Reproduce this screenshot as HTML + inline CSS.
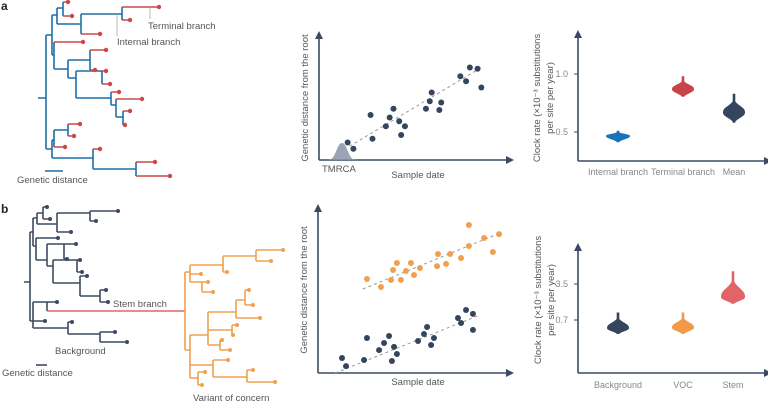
<!DOCTYPE html>
<html><head><meta charset="utf-8"><style>
html,body{margin:0;padding:0;background:#fff;}
svg{display:block;font-family:"Liberation Sans",sans-serif;}
.lbl{fill:#555;font-size:9.5px;}
.tk{fill:#888;font-size:9px;}
</style></head><body>
<svg id="fig" width="768" height="401" viewBox="0 0 768 401">
<defs>
<marker id="arr" viewBox="0 0 6 6" refX="3" refY="3" markerWidth="5" markerHeight="5" orient="auto"><path d="M0,0L6,3L0,6z" fill="#3b4a63"/></marker>
</defs>
<text x="1" y="10" font-size="12" font-weight="bold" fill="#222">a</text>
<text x="1" y="213" font-size="12" font-weight="bold" fill="#222">b</text>

<g fill="none" stroke-width="1.6">
<path stroke="#1f6fa8" d="M38 98H46M46 35V149M46 35H52M52 15V55M52 15H57M57 8V24M57 8H63M63 2V16M57 24H81M81 14V34M81 14H122M122 7V20M52 55H54M54 42V69M54 69H68M68 60V78M68 60H90M90 50V70M68 78H76M76 71V98M76 71H102M102 71V84M76 98H111M111 92V105M111 105H116M116 99V117M116 117H123M123 111V125M46 149H52M52 140V158M52 140H54M54 130V147M54 130H68M68 124V136M52 158H93M93 149V169M93 169H136M136 162V176"/>
<path stroke="#c94848" d="M63 2H68M63 16H72M122 7H159M122 20H130M81 34H100M54 42H83M90 50H106M90 70H95M102 71H106M102 84H110M111 92H119M116 99H142M123 111H130M123 125H125M68 124H80M68 136H74M54 147H65M93 149H100M136 162H155M136 176H170"/>
<g fill="#c94848" stroke="none">
<circle cx="68" cy="2" r="2.2"/><circle cx="72" cy="16" r="2.2"/><circle cx="159" cy="7" r="2.2"/><circle cx="130" cy="20" r="2.2"/><circle cx="100" cy="34" r="2.2"/><circle cx="83" cy="42" r="2.2"/><circle cx="106" cy="50" r="2.2"/><circle cx="95" cy="70" r="2.2"/><circle cx="106" cy="71" r="2.2"/><circle cx="110" cy="84" r="2.2"/><circle cx="119" cy="92" r="2.2"/><circle cx="142" cy="99" r="2.2"/><circle cx="130" cy="111" r="2.2"/><circle cx="125" cy="125" r="2.2"/><circle cx="80" cy="124" r="2.2"/><circle cx="74" cy="136" r="2.2"/><circle cx="65" cy="147" r="2.2"/><circle cx="100" cy="149" r="2.2"/><circle cx="155" cy="162" r="2.2"/><circle cx="170" cy="176" r="2.2"/>
</g>
<path stroke="#aaa" stroke-width="0.8" d="M150 8V19M117 14V36"/>
<path stroke="#1f6fa8" d="M45 171H63"/>
</g>
<text class="lbl" x="148" y="29">Terminal branch</text>
<text class="lbl" x="117" y="45">Internal branch</text>
<text class="lbl" x="17" y="183">Genetic distance</text>

<g fill="none" stroke-width="1.6">
<path stroke="#3d4a63" d="M24 282H30M30 232V321M30 232H33M33 218V246M33 218H37M37 213V224M37 213H43M43 207V219M37 224H57M57 213V232M57 213H90M90 211V221M33 246H36M36 238V260M36 260H47M47 244V266M47 244H64M64 244V259M47 266H53M53 260V283M53 260H77M77 260V272M53 283H80M80 276V296M80 296H100M100 290V302M30 321H33M33 302V328M33 302H47M47 302V311M33 328H68M68 322V334M68 334H100M100 332V342"/>
<path stroke="#3d4a63" d="M43 207H47M43 219H50M90 211H118M90 221H96M57 232H71M36 238H58M64 244H76M64 259H67M77 260H80M77 272H82M80 276H87M100 290H106M100 302H108M47 302H57M33 321H45M68 322H72M100 332H115M100 342H127"/>
<g fill="#3d4a63">
<circle cx="47" cy="207" r="2"/><circle cx="50" cy="219" r="2"/><circle cx="118" cy="211" r="2"/><circle cx="96" cy="221" r="2"/><circle cx="71" cy="232" r="2"/><circle cx="58" cy="238" r="2"/><circle cx="76" cy="244" r="2"/><circle cx="67" cy="259" r="2"/><circle cx="80" cy="260" r="2"/><circle cx="82" cy="272" r="2"/><circle cx="87" cy="276" r="2"/><circle cx="106" cy="290" r="2"/><circle cx="108" cy="302" r="2"/><circle cx="57" cy="302" r="2"/><circle cx="45" cy="321" r="2"/><circle cx="72" cy="322" r="2"/><circle cx="115" cy="332" r="2"/><circle cx="127" cy="342" r="2"/>
</g>
<path stroke="#e06468" d="M47 311H185"/>
<path stroke="#f0a050" d="M185 272V350M185 272H190M190 265V282M190 265H223M223 256V272M223 256H256M256 250V261M190 282H202M202 282V292M185 350H190M190 335V378M190 335H208M208 312V345M208 312H236M236 300V318M236 300H245M245 290V305M208 330H232M232 325V335M208 345H220M220 340V350M190 365H213M213 360V377M213 377H247M247 370V382M190 378H198M198 372V385"/>
<path stroke="#f0a050" d="M256 250H283M256 261H271M223 272H227M190 274H201M202 282H208M202 292H213M245 290H249M245 305H253M236 318H260M232 325H237M232 335H233M220 340H222M220 350H230M213 360H228M247 370H253M247 382H275M198 372H205M198 385H202"/>
<g fill="#f0a050">
<circle cx="283" cy="250" r="2"/><circle cx="271" cy="261" r="2"/><circle cx="227" cy="272" r="2"/><circle cx="201" cy="274" r="2"/><circle cx="208" cy="282" r="2"/><circle cx="213" cy="292" r="2"/><circle cx="249" cy="290" r="2"/><circle cx="253" cy="305" r="2"/><circle cx="260" cy="318" r="2"/><circle cx="237" cy="325" r="2"/><circle cx="233" cy="335" r="2"/><circle cx="222" cy="340" r="2"/><circle cx="230" cy="350" r="2"/><circle cx="228" cy="360" r="2"/><circle cx="253" cy="370" r="2"/><circle cx="275" cy="382" r="2"/><circle cx="205" cy="372" r="2"/><circle cx="202" cy="385" r="2"/>
</g>
<path stroke="#3d4a63" d="M36 365H47"/>
</g>
<text class="lbl" x="113" y="307">Stem branch</text>
<text class="lbl" x="55" y="354">Background</text>
<text class="lbl" x="2" y="376">Genetic distance</text>
<text class="lbl" x="193" y="401">Variant of concern</text>

<g id="charts"></g>
</svg>
<script>
const aDates = [1.5,1.8,2.7,2.8,3.5,3.7,3.9,4.2,4.3,4.5,5.6,5.8,5.9,6.3,6.4,7.4,7.7,7.9,8.3,8.5];
const aDist  = [1.4,0.9,3.6,1.7,2.7,3.4,4.1,3.1,2.0,2.7,4.1,4.7,5.4,4.0,4.6,6.7,6.3,7.4,7.3,5.8];
const aTrendX = [1.6,8.5];
const aTrendY = [1.1,7.4];
const bBgDates = [1.25,1.46,2.40,2.55,3.18,3.44,3.70,3.85,3.96,4.11,5.21,5.52,5.68,5.89,6.04,7.29,7.45,7.71,8.07,8.07];
const bBgDist  = [0.91,0.42,0.79,2.12,1.39,1.82,2.24,0.73,1.58,1.15,1.94,2.36,2.79,1.70,2.12,3.33,3.03,3.82,3.58,2.61];
const bVocDates = [2.55,3.28,3.80,3.91,4.11,4.32,4.58,4.84,5.0,5.31,6.25,6.20,6.67,6.88,7.45,7.86,7.86,8.65,9.11,9.43];
const bVocDist  = [5.70,5.21,5.64,6.24,6.67,5.64,6.18,6.67,5.94,6.36,7.21,6.48,6.61,7.21,6.97,7.70,8.97,8.18,7.33,8.42];
const bBgTrendX = [0.9,8.44];
const bBgTrendY = [0.0,3.52];
const bVocTrendX = [2.34,9.48];
const bVocTrendY = [5.09,8.48];
const aCats = ["Internal branch","Terminal branch","Mean"];
const aMed  = [0.466,0.87,0.67];
const aLo   = [0.41,0.80,0.58];
const aHi   = [0.51,0.98,0.83];
const aTicks = [0.5,1.0];
const aTickLabels = ["0.5","1.0"];
const bCats = ["Background","VOC","Stem"];
const bMed  = [0.49,0.50,1.96];
const bLo   = [0.37,0.37,1.42];
const bHi   = [0.98,0.98,6.2];
const bTicks = [0.7,3.5];
const bTickLabels = ["0.7","3.5"];

const NS="http://www.w3.org/2000/svg";
const root=document.getElementById('charts');
function mk(tag,attrs,parent){const e=document.createElementNS(NS,tag);for(const k in attrs)e.setAttribute(k,attrs[k]);(parent||root).appendChild(e);return e;}
function axes(x0,yTop,yBase,xEnd,name){
  const g=mk('g',{});
  
  
  mk('line',{x1:x0,y1:yBase,x2:x0,y2:yTop,stroke:'#3b4a63','stroke-width':1.6,'marker-end':'url(#arr)'},g);
  mk('line',{x1:x0,y1:yBase,x2:xEnd,y2:yBase,stroke:'#3b4a63','stroke-width':1.6,'marker-end':'url(#arr)'},g);
  return g;
}
function text(x,y,s,cls,anchor,rot,name){
  const t=mk('text',{x:x,y:y,class:cls,'text-anchor':anchor||'start'});
  if(rot)t.setAttribute('transform','rotate(-90 '+x+' '+y+')');
  t.textContent=s;
  
  
  return t;
}
const sxA=d=>319+d*19.1, syA=g=>160-g*12.5;
axes(319,35,160,510,'scatter-a-axes');
(function(){let p='M322 160';for(let x=322;x<=362;x+=0.5){const h=17*Math.exp(-Math.pow(Math.abs(x-342)/7,2.4));p+=' L'+x+' '+(160-h).toFixed(1);}p+=' Z';
const e=mk('path',{d:p,fill:'#8a93a8',opacity:0.85});

})();
{const l=mk('line',{x1:sxA(aTrendX[0]),y1:syA(aTrendY[0]),x2:sxA(aTrendX[1]),y2:syA(aTrendY[1]),stroke:'#999','stroke-dasharray':'3,3','stroke-width':1});

}
aDates.forEach((d,i)=>{const c=mk('circle',{cx:sxA(d),cy:syA(aDist[i]),r:3,fill:'#34465e'});

});
text(322,172,'TMRCA','lbl','start',false,'tmrca-label');
text(418,178,'Sample date','lbl','middle',false,'x-axis-title-a');
text(308,98,'Genetic distance from the root','lbl','middle',true,'y-axis-title-a');

const sxB=d=>318+d*19.2, syB=g=>373-g*16.5;
axes(318,208,373,510,'scatter-b-axes');
function trend(xs,ys,name){const l=mk('line',{x1:sxB(xs[0]),y1:syB(ys[0]),x2:sxB(xs[1]),y2:syB(ys[1]),stroke:'#999','stroke-dasharray':'3,3','stroke-width':1});

}
trend(bVocTrendX,bVocTrendY,'trend-line-voc');
trend(bBgTrendX,bBgTrendY,'trend-line-background');
bVocDates.forEach((d,i)=>{const c=mk('circle',{cx:sxB(d),cy:syB(bVocDist[i]),r:3,fill:'#f0a050'});

});
bBgDates.forEach((d,i)=>{const c=mk('circle',{cx:sxB(d),cy:syB(bBgDist[i]),r:3,fill:'#34465e'});

});
text(418,385,'Sample date','lbl','middle',false,'x-axis-title-b');
text(307,290,'Genetic distance from the root','lbl','middle',true,'y-axis-title-b');

// violin: rounded profile (generalised gaussian), longer spread above than below
function violin(cx,yMed,yLo,yHi,w,color,name){
  const su=Math.max((yMed-yHi)/2.3,2.5), sd=Math.max((yLo-yMed)/1.5,2.5);
  const right=[];
  for(let y=yHi;y<=yLo+0.01;y+=0.5){
    const s=y<yMed?su:sd;
    const ww=Math.max(w*Math.exp(-Math.pow(Math.abs(y-yMed)/s,2.5)),1.3);
    right.push([cx+ww,y]);
  }
  const left=right.map(q=>[2*cx-q[0],q[1]]).reverse();
  const all=right.concat(left);
  let p='M'+all.map(q=>q[0].toFixed(1)+' '+q[1].toFixed(1)).join(' L')+'Z';
  const e=mk('path',{d:p,fill:color});
  
  
}
const catXA=[618,683,734], colA=['#1874b8','#c8444a','#34465e'], wA=[12,11,11];
const vyA=v=>132-(v-0.5)*116;
axes(578,34,161,768,'violin-a-axes');
aTicks.forEach((t,i)=>{mk('line',{x1:574,x2:578,y1:vyA(t),y2:vyA(t),stroke:'#3b4a63'});text(568,vyA(t)+3,aTickLabels[i],'tk','end',false,'y-tick-a');});
aCats.forEach((c,i)=>{violin(catXA[i],vyA(aMed[i]),vyA(aLo[i]),vyA(aHi[i]),wA[i],colA[i],'violin-'+c.toLowerCase().replace(/ /g,'-'));text(catXA[i],175,c,'tk','middle',false,'x-tick-a');});
text(540,98,'Clock rate (×10⁻³ substitutions','lbl','middle',true,'y-axis-title-a2-line1');
text(553,98,'per site per year)','lbl','middle',true,'y-axis-title-a2-line2');
const catXB=[618,683,733], colB=['#34465e','#f39a4a','#e06468'], wB=[11,11,12];
const vyB=v=>320-(Math.log10(v)-Math.log10(0.7))*51.5;
axes(578,247,373,768,'violin-b-axes');
bTicks.forEach((t,i)=>{mk('line',{x1:574,x2:578,y1:vyB(t),y2:vyB(t),stroke:'#3b4a63'});text(568,vyB(t)+3,bTickLabels[i],'tk','end',false,'y-tick-b');});
bCats.forEach((c,i)=>{violin(catXB[i],vyB(bMed[i]),vyB(bLo[i]),vyB(bHi[i]),wB[i],colB[i],'violin-'+c.toLowerCase());text(catXB[i],388,c,'tk','middle',false,'x-tick-b');});
text(541,300,'Clock rate (×10⁻³ substitutions','lbl','middle',true,'y-axis-title-b2-line1');
text(554,300,'per site per year)','lbl','middle',true,'y-axis-title-b2-line2');
</script>
</body></html>
